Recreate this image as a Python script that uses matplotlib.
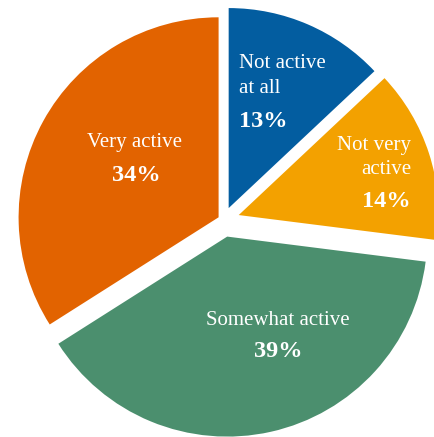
import matplotlib
matplotlib.use("Agg")
import matplotlib.pyplot as plt

# --- activity level shares ---
categories = ["Not active\nat all", "Not very\nactive", "Somewhat active", "Very active"]
shares = [13, 14, 39, 34]
colors = ["#035DA0", "#F3A100", "#4B8F6E", "#E26300"]
explode = [0.065, 0.08, 0.085, 0.028]

# pie radius = 200 px, centre at (223.5, 220) px from top-left
R_PX = 200.0
CX, CY = 223.5, 220.0
W, H = 435, 437


def px(x, y):
    return (x - CX) / R_PX, (CY - y) / R_PX


fig = plt.figure(figsize=(W / 100, H / 100), dpi=100)
ax = fig.add_axes([0, 0, 1, 1])

ax.pie(shares, colors=colors, explode=explode, startangle=90,
       counterclock=False, radius=1.0,
       wedgeprops=dict(linewidth=0))

ax.set_xlim(-CX / R_PX, (W - CX) / R_PX)
ax.set_ylim(-(H - CY) / R_PX, CY / R_PX)
ax.set_aspect("auto")
ax.axis("off")

font = "Liberation Serif"
reg = dict(color="white", fontsize=15, family=font, va="baseline")
bold = dict(color="white", fontsize=17.5, family=font, fontweight="bold", va="baseline")

# Not active at all (left aligned)
lines = categories[0].split("\n")
ax.text(*px(239, 68), lines[0], ha="left", **reg)
ax.text(*px(239, 93), lines[1], ha="left", **reg)
ax.text(*px(239, 127), f"{shares[0]}%", ha="left", **bold)

# Not very active (right aligned)
lines = categories[1].split("\n")
ax.text(*px(411, 150), lines[0], ha="right", **reg)
ax.text(*px(411, 174), lines[1], ha="right", **reg)
ax.text(*px(411, 207), f"{shares[1]}%", ha="right", **bold)

# Somewhat active
ax.text(*px(278, 325), categories[2], ha="center", **reg)
ax.text(*px(278, 357), f"{shares[2]}%", ha="center", **bold)

# Very active
ax.text(*px(135, 147), categories[3], ha="center", **reg)
ax.text(*px(136, 181), f"{shares[3]}%", ha="center", **bold)

fig.savefig("out.png", dpi=100, facecolor="white")
